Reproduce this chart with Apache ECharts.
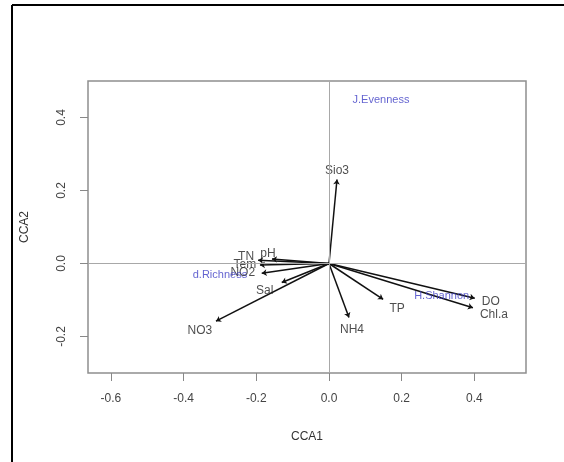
<!DOCTYPE html>
<html>
<head>
  <meta charset="utf-8">
  <title>CCA</title>
  <script src="https://cdn.jsdelivr.net/npm/echarts@6/dist/echarts.min.js"></script>
  <style>
    html, body { margin: 0; padding: 0; background: #fff; }
    #main { width: 564px; height: 462px; }
  </style>
</head>
<body>
  <div id="main"></div>
  <script>
    // environmental vectors (arrow tips)
    var envNames = ['Sio3', 'NO3', 'NH4', 'TP', 'DO', 'Chl.a', 'Sal', 'TN', 'pH', 'Tem', 'NO2'];
    var envCCA1 = [0.022, -0.311, 0.055, 0.149, 0.401, 0.396, -0.130, -0.195, -0.157, -0.190, -0.185];
    var envCCA2 = [0.230, -0.158, -0.148, -0.098, -0.095, -0.121, -0.052, 0.009, 0.012, -0.004, -0.027];

    // diversity indices (blue text)
    var idxNames = ['J.Evenness', 'd.Richness', 'H.Shannon'];
    var idxCCA1 = [0.143, -0.300, 0.310];
    var idxCCA2 = [0.449, -0.032, -0.089];

    var xTicks = [-0.6, -0.4, -0.2, 0.0, 0.2, 0.4];
    var yTicks = [-0.2, 0.0, 0.2, 0.4];

    // label nudges (pixels) relative to the arrow tip
    var nudge = {
      'Sio3': [0, -9], 'NO3': [-16, 10], 'NH4': [3, 12], 'TP': [14, 9],
      'DO': [16, 4], 'Chl.a': [21, 7], 'Sal': [-17, 8], 'TN': [-12, -4],
      'pH': [-4, -5], 'Tem': [-15, 0], 'NO2': [-19, -1]
    };

    var font = 'Liberation Sans, Arial, sans-serif';
    var chart = echarts.init(document.getElementById('main'));

    var arrows = envNames.map(function (n, i) {
      return { coords: [[0, 0], [envCCA1[i], envCCA2[i]]] };
    });
    var envLabels = envNames.map(function (n, i) {
      return {
        name: n,
        value: [envCCA1[i], envCCA2[i]],
        label: { offset: nudge[n] }
      };
    });
    var idxPoints = idxNames.map(function (n, i) {
      return { name: n, value: [idxCCA1[i], idxCCA2[i]] };
    });

    var fmt = function (v) { return v.toFixed(1); };

    chart.setOption({
      animation: false,
      backgroundColor: '#fff',
      textStyle: { fontFamily: font },
      grid: {
        left: 88, right: 38, top: 81, bottom: 89,
        show: true, borderColor: '#8f8f8f', borderWidth: 1.5
      },
      xAxis: {
        type: 'value', min: -0.663, max: 0.542,
        name: 'CCA1', nameLocation: 'middle', nameGap: 58,
        nameTextStyle: { fontSize: 12, color: '#333', fontFamily: font },
        axisLine: { show: false, onZero: false },
        axisTick: { show: true, length: 8, customValues: xTicks, lineStyle: { color: '#888' } },
        axisLabel: { customValues: xTicks, formatter: fmt, fontSize: 12, color: '#444', margin: 20, fontFamily: font },
        splitLine: { show: false }
      },
      yAxis: {
        type: 'value', min: -0.3, max: 0.5,
        name: 'CCA2', nameLocation: 'middle', nameGap: 57, nameRotate: 90,
        nameTextStyle: { fontSize: 12, color: '#333', fontFamily: font },
        axisLine: { show: false, onZero: false },
        axisTick: { show: true, length: 8, customValues: yTicks, lineStyle: { color: '#888' } },
        axisLabel: { customValues: yTicks, formatter: fmt, rotate: 90, fontSize: 12, color: '#444', margin: 20, fontFamily: font },
        splitLine: { show: false }
      },
      graphic: [
        { type: 'line', shape: { x1: 12, y1: 5, x2: 564, y2: 5 }, style: { stroke: '#000', lineWidth: 2 } },
        { type: 'line', shape: { x1: 12, y1: 5, x2: 12, y2: 462 }, style: { stroke: '#000', lineWidth: 2 } }
      ],
      series: [
        {
          type: 'scatter',
          symbolSize: 0,
          silent: true,
          data: [],
          markLine: {
            silent: true,
            symbol: 'none',
            label: { show: false },
            lineStyle: { color: '#a8a8a8', type: 'solid', width: 1 },
            data: [{ xAxis: 0 }, { yAxis: 0 }]
          }
        },
        {
          type: 'lines',
          coordinateSystem: 'cartesian2d',
          symbol: ['none', 'arrow'],
          symbolSize: [0, 5],
          lineStyle: { color: '#111', width: 1.5, opacity: 1 },
          data: arrows,
          z: 3
        },
        {
          type: 'scatter',
          symbolSize: 0,
          data: envLabels,
          label: {
            show: true, position: 'inside', formatter: '{b}',
            color: '#222', fontSize: 12, fontFamily: font
          },
          z: 4
        },
        {
          type: 'scatter',
          symbolSize: 0,
          data: idxPoints,
          label: {
            show: true, position: 'inside', formatter: '{b}',
            color: '#3c3cc4', fontSize: 11, fontFamily: font
          },
          z: 5
        }
      ]
    });
  </script>
</body>
</html>
